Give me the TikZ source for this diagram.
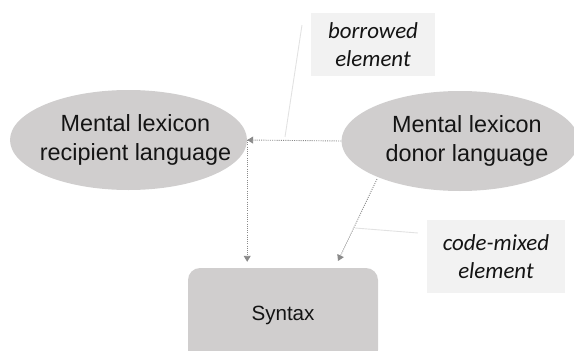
\documentclass[tikz,border=0pt]{standalone}
\usepackage{fontspec}
\setmainfont{Liberation Sans}
\newfontfamily\labelfont{Carlito}
\usetikzlibrary{arrows.meta,shapes.geometric}
\definecolor{shapegray}{HTML}{D0CECE}
\definecolor{labelbg}{HTML}{F2F2F2}
\definecolor{arrowgray}{HTML}{8A8A8A}
\definecolor{calloutgray}{HTML}{E2E2E2}
\definecolor{textcol}{HTML}{141414}
\newcommand{\rs}{\hspace*{14pt}}
\begin{document}
\begin{tikzpicture}[x=1pt,y=-1pt,
  lex/.style={ellipse, fill=shapegray, inner xsep=-32pt, inner ysep=0pt, minimum width=237pt, minimum height=100pt,
    align=center, text=textcol, font=\fontsize{23.4}{29}\selectfont},
  syntaxbox/.style={rectangle, rounded corners=12pt, fill=shapegray, inner sep=0pt,
    minimum width=190pt, minimum height=94pt, text=textcol, font=\fontsize{20.6}{25}\selectfont},
  tag/.style={rectangle, fill=labelbg, inner sep=0pt, align=center, text=textcol,
    font=\labelfont\itshape\fontsize{22.9}{28}\selectfont},
  flow/.style={draw=arrowgray, line width=0.9pt, dash pattern=on 1pt off 1.2pt,
    -{Triangle[length=6pt,width=7pt,fill=arrowgray]}},
  callout/.style={draw=calloutgray, line width=0.9pt}]
\useasboundingbox (0,0) rectangle (574,351);
\clip (0,0) rectangle (574,351);
\node[lex] (L) at (128.5,140) {\rs Mental lexicon\\\rs recipient language};
\node[lex] (R) at (460,141) {\rs Mental lexicon\\\rs donor language};
\node[syntaxbox] (S) at (283,315) {Syntax};
\node[tag, minimum width=124pt, minimum height=63pt] (B) at (373,44.5) {borrowed\\element};
\node[tag, minimum width=138pt, minimum height=73pt] (C) at (496,256.5) {code-mixed\\element};
\coordinate (rstart) at (377,179);
\coordinate (dtip) at (338,261);
\coordinate (bstart) at (302,25);
\coordinate (bend) at (285,137);
\coordinate (cstart) at (418,233);
\coordinate (cend) at (355,228);
\draw[flow] (R.west) -- (L.east);
\draw[flow, shorten >=6pt] (L.east) -- (L.east |- S.north);
\draw[flow] (rstart) -- (dtip);
\draw[callout] (bstart) -- (bend);
\draw[callout] (cstart) -- (cend);
\end{tikzpicture}
\end{document}
